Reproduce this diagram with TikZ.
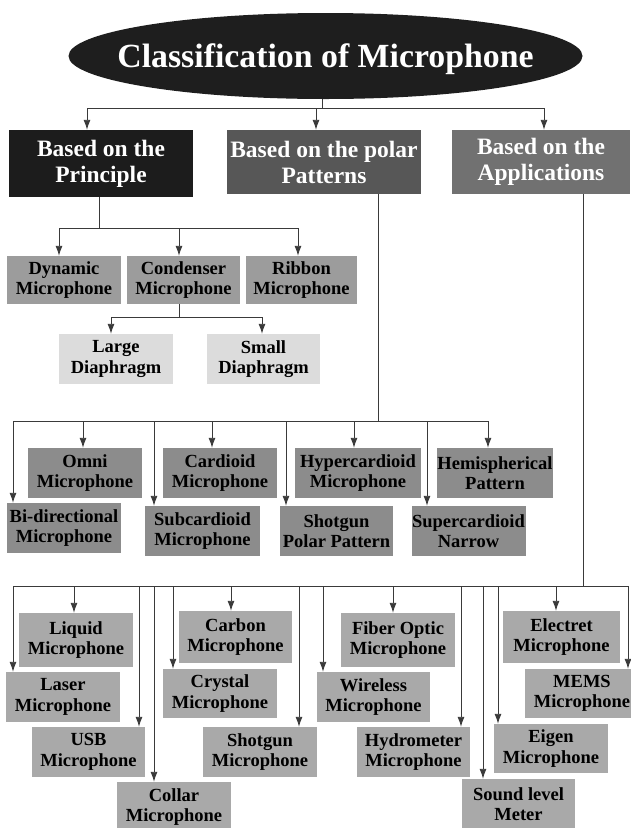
\documentclass[tikz,border=0pt]{standalone}
\usepackage{fontspec}
\setmainfont{Liberation Serif}
\usepackage{xcolor}
\usetikzlibrary{arrows.meta}
\usetikzlibrary{shapes.geometric}

\definecolor{titleblack}{HTML}{1E1E1E}
\definecolor{topblack}{HTML}{1C1C1C}
\definecolor{polardark}{HTML}{575757}
\definecolor{appsdark}{HTML}{717171}
\definecolor{princgray}{HTML}{9C9C9C}
\definecolor{diagray}{HTML}{DCDCDC}
\definecolor{polargray}{HTML}{8C8C8C}
\definecolor{appgray}{HTML}{A9A9A9}
\definecolor{linegray}{HTML}{3A3A3A}

\begin{document}
\begin{tikzpicture}[x=1pt,y=-1pt]

	\tikzstyle{vline} = [draw=linegray,line width=0.9pt]
	\tikzstyle{vedge} = [vline,-{Latex[length=10pt,width=7pt]}]
	\tikzstyle{hbox} = [rectangle,inner sep=0pt,align=center,text=white,font=\fontsize{23.5}{26}\selectfont\bfseries]
	\tikzstyle{mbox} = [rectangle,inner sep=0pt,align=center,minimum height=50,font=\fontsize{18.5}{20.5}\selectfont\bfseries]

	\useasboundingbox (0,0) rectangle (631,828);

	% title and the three groups
	\node[ellipse,fill=titleblack,minimum width=514,minimum height=86,inner sep=0pt] (title) at (325.5,56) {};
	\node[text=white,text depth=0pt,inner sep=0pt,font=\fontsize{33.8}{40}\selectfont\bfseries] (titletext) at (title.center) {Classification of Microphone};
	\node[hbox,fill=topblack,minimum width=184,minimum height=67] (principle) at (101,163.5) {Based on the\\Principle};
	\node[hbox,fill=polardark,minimum width=194,minimum height=64] (polar) at (324,162) {Based on the polar\\Patterns};
	\node[hbox,fill=appsdark,minimum width=178,minimum height=64] (apps) at (541,162) {Based on the\\Applications};

	% principle
	\node[mbox,fill=princgray,minimum width=114,minimum height=48] (dynamic) at (64,280) {Dynamic\\Microphone};
	\node[mbox,fill=princgray,minimum width=113,minimum height=48] (condenser) at (183.5,280) {Condenser\\Microphone};
	\node[mbox,fill=princgray,minimum width=111,minimum height=48] (ribbon) at (301.5,280) {Ribbon\\Microphone};
	\node[mbox,fill=diagray,minimum width=114] (large) at (116,359) {Large\\Diaphragm};
	\node[mbox,fill=diagray,minimum width=113] (small) at (263.5,359) {Small\\Diaphragm};

	% polar patterns
	\node[mbox,fill=polargray,minimum width=114] (omni) at (85,473) {Omni\\Microphone};
	\node[mbox,fill=polargray,minimum width=114] (cardioid) at (220,473) {Cardioid\\Microphone};
	\node[mbox,fill=polargray,minimum width=126] (hyper) at (358,473) {Hypercardioid\\Microphone};
	\node[mbox,fill=polargray,minimum width=116] (hemi) at (495,473) {Hemispherical\\Pattern};
	\node[mbox,fill=polargray,minimum width=114] (bidir) at (64,528) {Bi-directional\\Microphone};
	\node[mbox,fill=polargray,minimum width=115] (subcard) at (202.5,531) {Subcardioid\\Microphone};
	\node[mbox,fill=polargray,minimum width=113] (shotpolar) at (336.5,531) {Shotgun\\Polar Pattern};
	\node[mbox,fill=polargray,minimum width=114] (supercard) at (468.5,531) {Supercardioid\\Narrow};

	% applications
	\node[mbox,fill=appgray,minimum width=114,minimum height=54] (liquid) at (76,640) {Liquid\\Microphone};
	\node[mbox,fill=appgray,minimum width=113,minimum height=52] (carbon) at (235.5,637) {Carbon\\Microphone};
	\node[mbox,fill=appgray,minimum width=114,minimum height=54] (fiber) at (398,640) {Fiber Optic\\Microphone};
	\node[mbox,fill=appgray,minimum width=117,minimum height=52] (electret) at (561.5,637) {Electret\\Microphone};
	\node[mbox,fill=appgray,minimum width=114] (laser) at (63,697) {Laser\\Microphone};
	\node[mbox,fill=appgray,minimum width=114,minimum height=49] (crystal) at (220,693.5) {Crystal\\Microphone};
	\node[mbox,fill=appgray,minimum width=113] (wireless) at (373.5,697) {Wireless\\Microphone};
	\node[mbox,fill=appgray,minimum width=114,minimum height=49] (mems) at (582,693.5) {MEMS\\Microphone};
	\node[mbox,fill=appgray,minimum width=113] (usb) at (88.5,752) {USB\\Microphone};
	\node[mbox,fill=appgray,minimum width=114] (shotmic) at (260,752) {Shotgun\\Microphone};
	\node[mbox,fill=appgray,minimum width=113] (hydro) at (413.5,752) {Hydrometer\\Microphone};
	\node[mbox,fill=appgray,minimum width=114,minimum height=49] (eigen) at (551,748.5) {Eigen\\Microphone};
	\node[mbox,fill=appgray,minimum width=114] (collar) at (174,807) {Collar\\Microphone};
	\node[mbox,fill=appgray,minimum width=113] (sound) at (518.5,804) {Sound level\\Meter};

	% branch points
	\coordinate (t0) at (322,108);
	\coordinate (t-principle) at (87,108);
	\coordinate (t-polar) at (316,108);
	\coordinate (t-apps) at (544,108);

	\coordinate (r0) at (99,228);
	\coordinate (r-dynamic) at (59,228);
	\coordinate (r-condenser) at (179,228);
	\coordinate (r-ribbon) at (298,228);

	\coordinate (d0) at (179,317);
	\coordinate (d-large) at (111,317);
	\coordinate (d-small) at (262,317);

	\coordinate (p0) at (378,421);
	\coordinate (p-bidir) at (13,421);
	\coordinate (p-omni) at (83,421);
	\coordinate (p-subcard) at (154,421);
	\coordinate (p-cardioid) at (212,421);
	\coordinate (p-shotpolar) at (286,421);
	\coordinate (p-hyper) at (354,421);
	\coordinate (p-supercard) at (427,421);
	\coordinate (p-hemi) at (488,421);

	\coordinate (a0) at (583,586);
	\coordinate (a-laser) at (13,586);
	\coordinate (a-liquid) at (74,586);
	\coordinate (a-usb) at (139,586);
	\coordinate (a-collar) at (154,586);
	\coordinate (a-crystal) at (173,586);
	\coordinate (a-carbon) at (231,586);
	\coordinate (a-shotmic) at (299,586);
	\coordinate (a-wireless) at (323,586);
	\coordinate (a-fiber) at (393,586);
	\coordinate (a-hydro) at (461,586);
	\coordinate (a-sound) at (483,586);
	\coordinate (a-eigen) at (498,586);
	\coordinate (a-electret) at (556,586);
	\coordinate (a-mems) at (628,586);

	% stems and buses
	\draw[vline] (title.south -| t0) -- (t0);
	\draw[vline] (t-principle) -- (t-apps);
	\draw[vline] (principle.south -| r0) -- (r0);
	\draw[vline] (r-dynamic) -- (r-ribbon);
	\draw[vline] (condenser.south -| d0) -- (d0);
	\draw[vline] (d-large) -- (d-small);
	\draw[vline] (polar.south -| p0) -- (p0);
	\draw[vline] (p-bidir) -- (p-hemi);
	\draw[vline] (apps.south -| a0) -- (a0);
	\draw[vline] (a-laser) -- (a-mems);

	% arrows
	\draw (t-principle) edge [vedge] (t-principle |- principle.north);
	\draw (t-polar) edge [vedge] (t-polar |- polar.north);
	\draw (t-apps) edge [vedge] (t-apps |- apps.north);

	\draw (r-dynamic) edge [vedge] (r-dynamic |- dynamic.north);
	\draw (r-condenser) edge [vedge] (r-condenser |- condenser.north);
	\draw (r-ribbon) edge [vedge] (r-ribbon |- ribbon.north);
	\draw (d-large) edge [vedge] (d-large |- large.north);
	\draw (d-small) edge [vedge] (d-small |- small.north);

	\draw (p-bidir) edge [vedge] (p-bidir |- bidir.north);
	\draw (p-omni) edge [vedge] (p-omni |- omni.north);
	\draw (p-subcard) edge [vedge] (p-subcard |- subcard.north);
	\draw (p-cardioid) edge [vedge] (p-cardioid |- cardioid.north);
	\draw (p-shotpolar) edge [vedge] (p-shotpolar |- shotpolar.north);
	\draw (p-hyper) edge [vedge] (p-hyper |- hyper.north);
	\draw (p-supercard) edge [vedge] (p-supercard |- supercard.north);
	\draw (p-hemi) edge [vedge] (p-hemi |- hemi.north);

	\draw (a-laser) edge [vedge] (a-laser |- laser.north);
	\draw (a-liquid) edge [vedge] (a-liquid |- liquid.north);
	\draw (a-usb) edge [vedge] (a-usb |- usb.north);
	\draw (a-collar) edge [vedge] (a-collar |- collar.north);
	\draw (a-crystal) edge [vedge] (a-crystal |- crystal.north);
	\draw (a-carbon) edge [vedge] (a-carbon |- carbon.north);
	\draw (a-shotmic) edge [vedge] (a-shotmic |- shotmic.north);
	\draw (a-wireless) edge [vedge] (a-wireless |- wireless.north);
	\draw (a-fiber) edge [vedge] (a-fiber |- fiber.north);
	\draw (a-hydro) edge [vedge] (a-hydro |- hydro.north);
	\draw (a-sound) edge [vedge] (a-sound |- sound.north);
	\draw (a-eigen) edge [vedge] (a-eigen |- eigen.north);
	\draw (a-electret) edge [vedge] (a-electret |- electret.north);
	\draw (a-mems) edge [vedge] (a-mems |- mems.north);

\end{tikzpicture}
\end{document}
